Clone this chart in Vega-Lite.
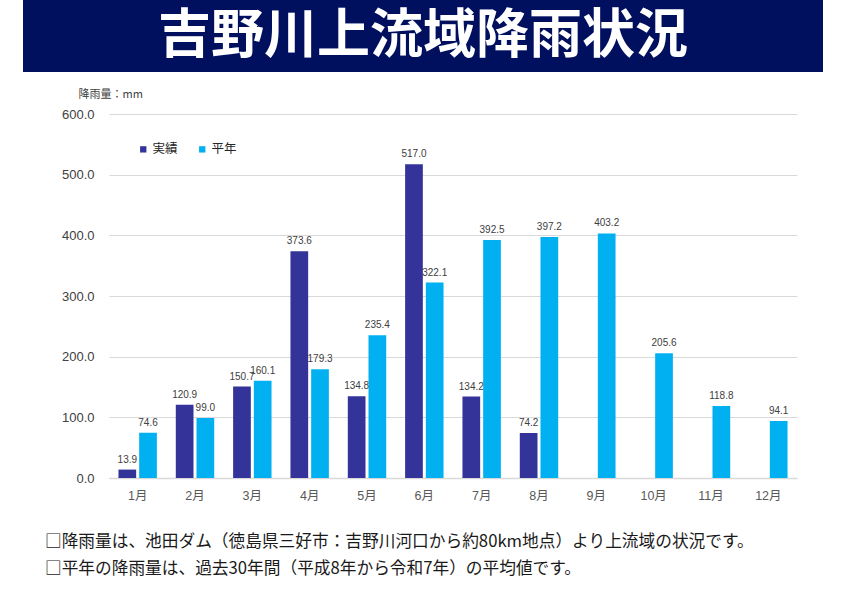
{
  "$schema": "https://vega.github.io/schema/vega-lite/v6.json",
  "background": "white",
  "padding": {"left": 23, "top": 0, "right": 0, "bottom": 0},
  "spacing": 16,
  "resolve": {"legend": {"color": "independent"}},
  "config": {"view": {"stroke": null}, "font": "Noto Sans CJK JP"},
  "vconcat": [
    {
      "width": 800,
      "height": 72,
      "view": {"fill": "#00105F", "stroke": null},
      "data": {"values": [{"title": "吉野川上流域降雨状況"}]},
      "mark": {"type": "text", "font": "Noto Sans CJK JP", "fontSize": 53, "fontWeight": "bold", "color": "white", "baseline": "middle", "align": "center", "dy": 1},
      "encoding": {"text": {"field": "title", "type": "nominal"}}
    },
    {
      "width": 774,
      "height": 364,
      "title": {
        "text": ["□降雨量は、池田ダム（徳島県三好市：吉野川河口から約80km地点）より上流域の状況です。", "□平年の降雨量は、過去30年間（平成8年から令和7年）の平均値です。"],
        "orient": "bottom", "anchor": "start", "frame": "bounds", "baseline": "top",
        "dx": 22, "offset": 32, "fontSize": 16.7, "fontWeight": "normal",
        "font": "Noto Sans CJK JP", "color": "#1a1a1a", "lineHeight": 27
      },
      "data": {
        "values": [
          {"month": "1月", "series": "実績", "value": 13.9},
          {"month": "1月", "series": "平年", "value": 74.6},
          {"month": "2月", "series": "実績", "value": 120.9},
          {"month": "2月", "series": "平年", "value": 99.0},
          {"month": "3月", "series": "実績", "value": 150.7},
          {"month": "3月", "series": "平年", "value": 160.1},
          {"month": "4月", "series": "実績", "value": 373.6},
          {"month": "4月", "series": "平年", "value": 179.3},
          {"month": "5月", "series": "実績", "value": 134.8},
          {"month": "5月", "series": "平年", "value": 235.4},
          {"month": "6月", "series": "実績", "value": 517.0},
          {"month": "6月", "series": "平年", "value": 322.1},
          {"month": "7月", "series": "実績", "value": 134.2},
          {"month": "7月", "series": "平年", "value": 392.5},
          {"month": "8月", "series": "実績", "value": 74.2},
          {"month": "8月", "series": "平年", "value": 397.2},
          {"month": "9月", "series": "平年", "value": 403.2},
          {"month": "10月", "series": "平年", "value": 205.6},
          {"month": "11月", "series": "平年", "value": 118.8},
          {"month": "12月", "series": "平年", "value": 94.1}
        ]
      },
      "encoding": {
        "x": {
          "field": "month", "type": "nominal",
          "sort": ["1月", "2月", "3月", "4月", "5月", "6月", "7月", "8月", "9月", "10月", "11月", "12月"],
          "scale": {"range": [86, 774], "paddingInner": 0.33, "paddingOuter": 0.165},
          "axis": {
            "title": null, "labelAngle": 0, "ticks": false, "tickSize": 0,
            "labelPadding": 11, "labelFontSize": 12.5, "labelColor": "#595959",
            "labelFont": "Liberation Sans, Noto Sans CJK JP",
            "domainColor": "#d9d9d9", "domainWidth": 1.5
          }
        },
        "xOffset": {
          "field": "series", "type": "nominal", "sort": ["実績", "平年"],
          "scale": {"paddingInner": 0.145, "paddingOuter": 0}
        },
        "y": {
          "field": "value", "type": "quantitative",
          "scale": {"domain": [0, 600]},
          "axis": {
            "offset": -86,
            "values": [0, 100, 200, 300, 400, 500, 600], "format": ".1f",
            "title": "降雨量：mm", "titleAngle": 0, "titleX": -31, "titleY": -20,
            "titleAlign": "left", "titleBaseline": "middle", "titleFontSize": 11,
            "titleFontWeight": "normal", "titleColor": "#404040",
            "labelFontSize": 13, "labelColor": "#404040", "labelPadding": 15,
            "labelFont": "Liberation Sans",
            "ticks": false, "domain": false, "gridColor": "#d9d9d9"
          }
        },
        "color": {
          "field": "series", "type": "nominal",
          "scale": {"domain": ["実績", "平年"], "range": ["#333399", "#00B0F0"]},
          "legend": {
            "title": null, "orient": "none", "legendX": 114, "legendY": 29,
            "direction": "horizontal", "symbolType": "square", "symbolSize": 40,
            "labelFontSize": 12.5, "labelColor": "#262626", "columnPadding": 18,
            "labelOffset": 3
          }
        }
      },
      "layer": [
        {"mark": {"type": "bar"}},
        {
          "mark": {"type": "text", "baseline": "bottom", "dy": -5, "fontSize": 10, "font": "Liberation Sans", "color": "#404040"},
          "encoding": {
            "text": {"field": "value", "type": "quantitative", "format": ".1f"},
            "color": {"value": "#404040"}
          }
        }
      ]
    }
  ]
}
